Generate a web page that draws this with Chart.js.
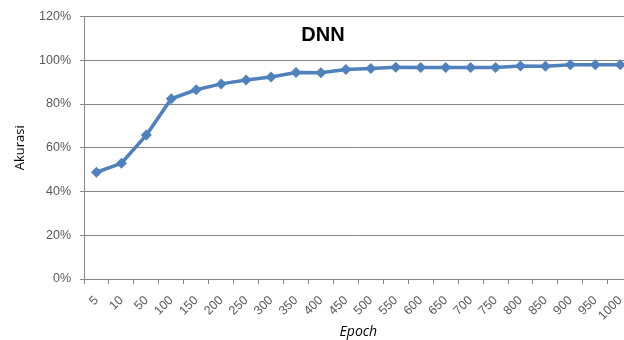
<!DOCTYPE html>
<html>
<head>
<meta charset="utf-8">
<script src="https://cdn.jsdelivr.net/npm/chart.js@4/dist/chart.umd.min.js"></script>
<style>
  html, body { margin: 0; padding: 0; background: #fff; overflow: hidden; }
  #wrap { width: 640px; height: 340px; }
</style>
</head>
<body>
<div id="wrap"><canvas id="c" width="640" height="340"></canvas></div>
<script>
const epochs = ['5','10','50','100','150','200','250','300','350','400','450','500','550','600','650','700','750','800','850','900','950','1000'];
const akurasi = [48.8, 52.9, 65.8, 82.4, 86.5, 89.2, 91.0, 92.3, 94.4, 94.3, 95.8, 96.2, 96.8, 96.7, 96.7, 96.7, 96.7, 97.4, 97.3, 97.9, 97.9, 97.9];
const yTicks = [0, 20, 40, 60, 80, 100, 120];
const chartTitle = 'DNN';

const titlePlugin = {
  id: 'innerTitle',
  afterDraw(chart) {
    const ctx = chart.ctx;
    ctx.save();
    ctx.font = 'bold 20px "Liberation Sans", Arial, sans-serif';
    ctx.fillStyle = '#000';
    ctx.textAlign = 'center';
    ctx.textBaseline = 'middle';
    ctx.fillText(chartTitle, 323, 35);
    ctx.restore();
  }
};

new Chart(document.getElementById('c'), {
  type: 'line',
  data: {
    labels: epochs,
    datasets: [{
      data: akurasi,
      borderColor: '#4F81BD',
      backgroundColor: '#4F81BD',
      borderWidth: 3.5,
      pointStyle: 'rectRot',
      pointRadius: 5.5,
      pointBorderWidth: 0,
      tension: 0
    }]
  },
  options: {
    responsive: false,
    animation: false,
    devicePixelRatio: 1,
    layout: { padding: { top: 10, right: 6, left: 0, bottom: 0 } },
    plugins: { legend: { display: false }, tooltip: { enabled: false } },
    scales: {
      x: {
        offset: true,
        grid: { offset: true, drawOnChartArea: false, drawTicks: true, tickLength: 5, color: '#868686' },
        border: { color: '#868686' },
        ticks: {
          minRotation: 45, maxRotation: 45, autoSkip: false,
          color: '#595959', font: { family: '"Liberation Sans", Arial, sans-serif', size: 12.5 }, padding: 9
        },
        title: {
          display: true, text: 'Epoch', color: '#000',
          font: { family: '"Open Sans", sans-serif', size: 14, style: 'italic' }, padding: { top: 0, bottom: 0 }
        },
        afterFit(s) { s.height = 61; }
      },
      y: {
        min: 0, max: 120,
        afterBuildTicks(s) { s.ticks = yTicks.map(v => ({ value: v })); },
        grid: { color: '#868686', tickLength: 4 },
        border: { color: '#868686' },
        ticks: {
          color: '#595959', font: { family: '"Liberation Sans", Arial, sans-serif', size: 12.5 },
          callback: v => v + '%', padding: 9
        },
        title: {
          display: true, text: 'Akurasi', color: '#000',
          font: { family: '"Open Sans", sans-serif', size: 13 }, padding: { top: 12, bottom: 0 }
        },
        afterFit(s) { s.width = 84; }
      }
    }
  },
  plugins: [titlePlugin]
});
</script>
</body>
</html>
